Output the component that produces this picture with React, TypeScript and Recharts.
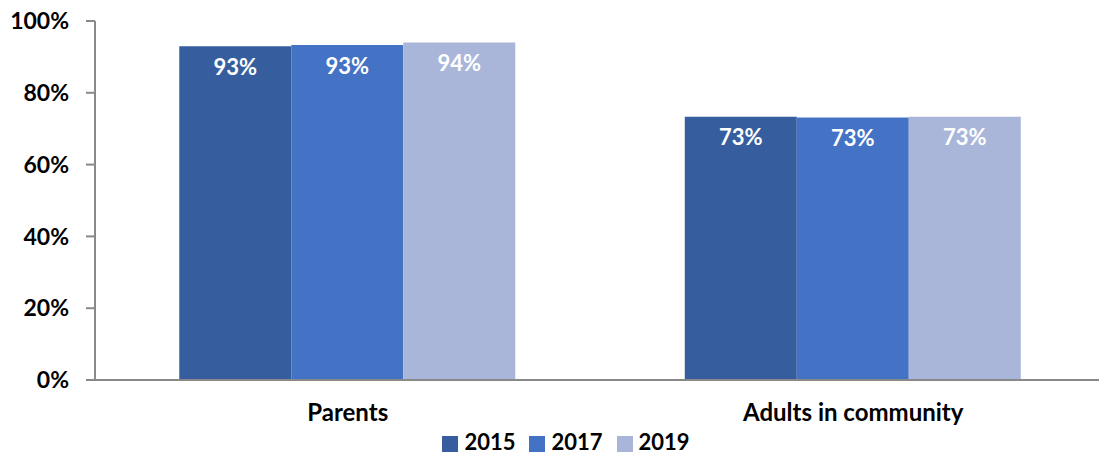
import React from "react";
import { BarChart, Bar, XAxis, YAxis, Legend, LabelList } from "recharts";

const categories = ["Parents", "Adults in community"];
const values2015 = [93.0, 73.3];
const values2017 = [93.3, 73.1];
const values2019 = [94.0, 73.3];
const yTicks = [0, 20, 40, 60, 80, 100];

const data = categories.map((name, i) => ({
  name,
  y2015: values2015[i],
  y2017: values2017[i],
  y2019: values2019[i],
}));

const FONT = "Lato, 'Open Sans', sans-serif";
const AXIS = "#898989";

const fmt = (v: any) => `${Math.round(Number(v))}%`;
const labelStyle = { fontSize: 22, fontWeight: 700, fontFamily: FONT };

export default function App() {
  return (
    <div style={{ position: "absolute", left: 0, top: 0, fontFamily: FONT }}>
      <BarChart
        width={1099}
        height={455}
        data={data}
        margin={{ top: 21, right: -7, left: 0, bottom: 0 }}
        barCategoryGap="16.67%"
        barGap={0}
      >
        <XAxis
          dataKey="name"
          xAxisId="cat"
          stroke={AXIS}
          strokeWidth={2}
          tickLine={false}
          height={49}
          tick={{ fill: "#000", fontSize: 24, fontWeight: 700, fontFamily: FONT }}
          tickMargin={18}
        />
        <XAxis
          xAxisId="bound"
          type="number"
          domain={[0, 2]}
          ticks={[0, 1]}
          axisLine={false}
          tick={false}
          tickSize={9}
          stroke={AXIS}
          strokeWidth={2}
          height={0}
          orientation="bottom"
        />
        <YAxis
          domain={[0, 100]}
          ticks={yTicks}
          width={95}
          stroke={AXIS}
          strokeWidth={2}
          tickSize={9}
          tickFormatter={(v: number) => `${v}%`}
          tick={{ fill: "#000", fontSize: 23, fontWeight: 700, fontFamily: FONT }}
          tickMargin={17}
        />
        <Legend
          verticalAlign="bottom"
          height={26}
          iconType="square"
          iconSize={16}
          wrapperStyle={{ fontFamily: FONT, fontSize: 22, fontWeight: 700, top: 430, left: 20, lineHeight: "24px" }}
          formatter={(value: string) => (
            <span style={{ color: "#000", marginLeft: 2, marginRight: 4 }}>{value}</span>
          )}
        />
        <Bar xAxisId="cat" dataKey="y2015" name="2015" fill="#365E9E" isAnimationActive={false}>
          <LabelList dataKey="y2015" position="insideTop" offset={13} formatter={fmt} fill="#fff" style={labelStyle} />
        </Bar>
        <Bar xAxisId="cat" dataKey="y2017" name="2017" fill="#4472C4" isAnimationActive={false}>
          <LabelList dataKey="y2017" position="insideTop" offset={13} formatter={fmt} fill="#fff" style={labelStyle} />
        </Bar>
        <Bar xAxisId="cat" dataKey="y2019" name="2019" fill="#A9B6DA" isAnimationActive={false}>
          <LabelList dataKey="y2019" position="insideTop" offset={13} formatter={fmt} fill="#fff" style={labelStyle} />
        </Bar>
      </BarChart>
    </div>
  );
}
